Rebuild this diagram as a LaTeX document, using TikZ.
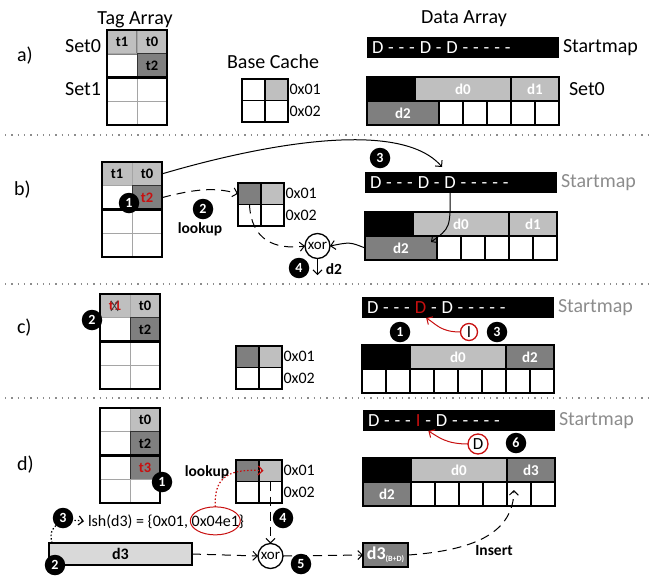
\documentclass[tikz,border=0pt]{standalone}
\usepackage{fontspec}
\setmainfont{Carlito}
\usetikzlibrary{arrows.meta,shapes.geometric,shapes.misc,calc}
\definecolor{lg}{RGB}{191,191,191}
\definecolor{dg}{RGB}{127,127,127}
\definecolor{vlg}{RGB}{217,217,217}
\definecolor{gridg}{RGB}{165,165,165}
\definecolor{myred}{RGB}{200,16,16}
\definecolor{smgray}{RGB}{140,140,140}
\definecolor{sepg}{RGB}{140,140,140}
\newcommand\fsz[1]{\fontsize{#1}{#1}\selectfont}
\newcommand\smfont{\fsz{18.5}\spaceskip=4.85pt\relax}
\newlength\smA \newlength\smB \newlength\smDw \newlength\smIw
\newlength\smAD \newlength\smBD \newlength\smAI

\begin{document}
\settowidth\smA{\smfont D - - - }%
\settowidth\smB{\smfont D - - - D - }%
\settowidth\smDw{\smfont D}%
\settowidth\smIw{\smfont I}%
\setlength\smAD{\dimexpr\smA+\smDw\relax}%
\setlength\smBD{\dimexpr\smB+\smDw/2\relax}%
\setlength\smAI{\dimexpr\smA+\smIw+8pt\relax}%
\begin{tikzpicture}[x=1pt,y=-1pt,
  every node/.style={outer sep=0pt},
  ttl/.style={font=\fsz{20}, inner sep=0pt},
  addr/.style={font=\fsz{16}, inner sep=0pt, anchor=west},
  tcell/.style={draw=gridg, line width=1pt, minimum width=30pt, minimum height=23.75pt, inner sep=0pt, font=\fsz{14.5}\bfseries},
  bcell/.style={draw=black, line width=1.2pt, minimum width=23pt, minimum height=21.5pt, inner sep=0pt},
  dcell/.style={draw=black, line width=1.2pt, minimum height=24pt, inner sep=0pt, font=\fsz{15}\bfseries, text=white},
  wcell/.style={dcell, fill=white, minimum width=24pt},
  frm/.style={draw=black, line width=2.4pt},
  smbar/.style={fill=black, minimum width=192pt, minimum height=21pt, inner sep=0pt, anchor=north west},
  smtext/.style={text=white, font=\smfont, inner sep=0pt, anchor=west},
  badge/.style={circle, fill=black, text=white, font=\fsz{14}\bfseries, inner sep=0pt, minimum size=20.5pt},
  xorn/.style={circle, draw=black, line width=1.3pt, fill=white, minimum size=25pt, inner sep=0pt, font=\fsz{15}},
  rcirc/.style={circle, draw=myred, line width=1.3pt, fill=white, inner sep=0pt, font=\fsz{17}},
  arr/.style={-{Straight Barb[length=4.5pt,width=9pt]}, line width=1pt},
  dashedl/.style={dash pattern=on 9pt off 6pt},
  dottedl/.style={dash pattern=on 1.5pt off 2pt, line width=1.2pt},
  bl/.style={font=\fsz{15.5}\bfseries, inner sep=0pt},
  sepline/.style={draw=sepg, line width=1.3pt, dash pattern=on 1.3pt off 5pt},
]
\useasboundingbox (0,0) rectangle (656,579);

% separators
\draw[sepline] (5,135) -- (650,135);
\draw[sepline] (5,284) -- (650,284);
\draw[sepline] (5,398) -- (650,398);

% ================= Panel a =================
\node[ttl, anchor=base] (a-tagtitle) at (135,24) {Tag Array};
\node[ttl, anchor=base] (a-bctitle) at (273,68) {Base Cache};
\node[ttl, anchor=base] (a-datatitle) at (464,23) {Data Array};
\node[ttl, anchor=base west] (a-lbl) at (17,61) {a)};
\node[ttl, anchor=base east] (a-set0) at (101,52) {Set0};
\node[ttl, anchor=base east] (a-set1) at (101,95) {Set1};

\begin{scope}[shift={(107,30)}]
 \node[tcell,fill=lg,draw=gray,line width=1.5pt] (a-t11) at (15,11.875) {t1};
 \node[tcell,fill=lg] (a-t12) at (45,11.875) {t0};
 \node[tcell] (a-t21) at (15,35.625) {};
 \node[tcell,fill=dg,draw=black!80] (a-t22) at (45,35.625) {t2};
 \node[tcell] (a-t31) at (15,59.375) {};
 \node[tcell] (a-t32) at (45,59.375) {};
 \node[tcell] (a-t41) at (15,83.125) {};
 \node[tcell] (a-t42) at (45,83.125) {};
\end{scope}
\draw[frm] (a-t11.north west) rectangle (a-t42.south east);
\draw[frm] (a-t31.north west) -- (a-t32.north east);

\begin{scope}[shift={(242,79)}]
 \node[bcell] (a-bc11) at (11.5,10.75) {};
 \node[bcell,fill=lg] (a-bc12) at (34.5,10.75) {};
 \node[bcell] (a-bc21) at (11.5,32.25) {};
 \node[bcell] (a-bc22) at (34.5,32.25) {};
\end{scope}
\draw[frm] (a-bc11.north west) rectangle (a-bc22.south east);
\node[addr] (a-ad1) at ([xshift=1.5pt]a-bc12.east) {0x01};
\node[addr] (a-ad2) at ([xshift=1.5pt]a-bc22.east) {0x02};

\node[smbar] (a-sm) at (367,37) {};
\node[smtext] (a-smt) at ([xshift=5pt]a-sm.west) {D - - - D - D - - - - -};
\node[ttl, anchor=west] (a-sml) at ([xshift=4pt]a-sm.east) {Startmap};
\begin{scope}[shift={(367,77)}]
 \node[dcell,fill=black,minimum width=48pt] (a-blk) at (24,12) {};
 \node[dcell,fill=lg,minimum width=96pt] (a-d0) at (96,12) {d0};
 \node[dcell,fill=lg,minimum width=48pt] (a-d1) at (168,12) {d1};
 \node[dcell,fill=dg,minimum width=72pt] (a-d2) at (36,36) {d2};
 \foreach \i/\xx in {1/84,2/108,3/132,4/156,5/180} \node[wcell] (a-w\i) at (\xx,36) {};
\end{scope}
\draw[frm] (a-blk.north west) rectangle (a-w5.south east);
\node[ttl, anchor=west] (a-set0d) at (569,89) {Set0};

% ================= Panel b =================
\node[ttl, anchor=base west] (b-lbl) at (14,195) {b)};
\begin{scope}[shift={(102,162)}]
 \node[tcell,fill=lg] (b-t11) at (15,11.875) {t1};
 \node[tcell,fill=lg] (b-t12) at (45,11.875) {t0};
 \node[tcell] (b-t21) at (15,35.625) {};
 \node[tcell,fill=dg,draw=black!80] (b-t22) at (45,35.625) {\color{myred}t2};
 \node[tcell] (b-t31) at (15,59.375) {};
 \node[tcell] (b-t32) at (45,59.375) {};
 \node[tcell] (b-t41) at (15,83.125) {};
 \node[tcell] (b-t42) at (45,83.125) {};
\end{scope}
\draw[frm] (b-t11.north west) rectangle (b-t42.south east);
\draw[frm] (b-t31.north west) -- (b-t32.north east);

\begin{scope}[shift={(238,183)}]
 \node[bcell,fill=dg] (b-bc11) at (11.5,10.75) {};
 \node[bcell,fill=lg] (b-bc12) at (34.5,10.75) {};
 \node[bcell] (b-bc21) at (11.5,32.25) {};
 \node[bcell] (b-bc22) at (34.5,32.25) {};
\end{scope}
\draw[frm] (b-bc11.north west) rectangle (b-bc22.south east);
\node[addr] (b-ad1) at ([xshift=1.5pt]b-bc12.east) {0x01};
\node[addr] (b-ad2) at ([xshift=1.5pt]b-bc22.east) {0x02};

\node[smbar] (b-sm) at (365,172) {};
\node[smtext] (b-smt) at ([xshift=5pt]b-sm.west) {D - - - D - D - - - - -};
\node[ttl, anchor=west, text=smgray] (b-sml) at ([xshift=4pt]b-sm.east) {Startmap};
\begin{scope}[shift={(365,212)}]
 \node[dcell,fill=black,minimum width=48pt] (b-blk) at (24,12) {};
 \node[dcell,fill=lg,minimum width=96pt] (b-d0) at (96,12) {d0};
 \node[dcell,fill=lg,minimum width=48pt] (b-d1) at (168,12) {d1};
 \node[dcell,fill=dg,minimum width=72pt] (b-d2) at (36,36) {d2};
 \foreach \i/\xx in {1/84,2/108,3/132,4/156,5/180} \node[wcell] (b-w\i) at (\xx,36) {};
\end{scope}
\draw[frm] (b-blk.north west) rectangle (b-w5.south east);

\coordinate (b-smin) at (442,167);
\coordinate (b-d2out) at (317.5,275);
\coordinate (b-D3x) at ([xshift=\smBD]b-smt.west);
\coordinate (b-D3) at (b-D3x |- b-sm.south);
\coordinate (b-d2in) at ([xshift=-6pt,yshift=-6pt]b-d2.north east);

\draw[arr] (b-t12.east) .. controls (260,145) and (400,118) .. (b-smin);
\draw[arr,dashedl] (b-t22.east) .. controls (195,189) and (215,187) .. (b-bc11.west);
\draw[arr] (b-D3) .. controls ([yshift=-35pt]b-D3) .. (b-d2in);
\node[xorn] (b-xor) at (317.5,246) {xor};
\draw[arr,dashedl] (b-bc11.south) .. controls (251,240) and (275,250) .. (b-xor.west);
\draw[arr] (b-d2.west) .. controls (350,242) .. (b-xor.east);
\draw[arr] (b-xor.south) -- (b-d2out);

\node[badge] (b-n1) at (129,203) {1};
\node[badge] (b-n2) at (203,209) {2};
\node[badge] (b-n3) at (380,158) {3};
\node[badge] (b-n4) at (299,268) {4};
\node[bl] (b-lookup) at (200,229) {lookup};
\node[bl] (b-d2lbl) at (334,269) {d2};

% ================= Panel c =================
\node[ttl, anchor=base west] (c-lbl) at (17,333) {c)};
\begin{scope}[shift={(100,294)}]
 \node[tcell,fill=lg] (c-t11) at (15,11.875) {\color{myred}t1};
 \node[tcell,fill=lg] (c-t12) at (45,11.875) {t0};
 \node[tcell] (c-t21) at (15,35.625) {};
 \node[tcell,fill=dg,draw=black!80] (c-t22) at (45,35.625) {t2};
 \node[tcell] (c-t31) at (15,59.375) {};
 \node[tcell] (c-t32) at (45,59.375) {};
 \node[tcell] (c-t41) at (15,83.125) {};
 \node[tcell] (c-t42) at (45,83.125) {};
\end{scope}
\draw[frm] (c-t11.north west) rectangle (c-t42.south east);
\draw[frm] (c-t31.north west) -- (c-t32.north east);
\node[cross out, draw=black!75, line width=0.9pt, minimum width=7pt, minimum height=10pt, inner sep=0pt] (c-x) at ([xshift=-0.5pt]c-t11.center) {};

\begin{scope}[shift={(236,346)}]
 \node[bcell,fill=dg] (c-bc11) at (11.5,10.75) {};
 \node[bcell,fill=lg] (c-bc12) at (34.5,10.75) {};
 \node[bcell] (c-bc21) at (11.5,32.25) {};
 \node[bcell] (c-bc22) at (34.5,32.25) {};
\end{scope}
\draw[frm] (c-bc11.north west) rectangle (c-bc22.south east);
\node[addr] (c-ad1) at ([xshift=1.5pt]c-bc12.east) {0x01};
\node[addr] (c-ad2) at ([xshift=1.5pt]c-bc22.east) {0x02};

\node[smbar] (c-sm) at (362,297) {};
\node[smtext] (c-smt) at ([xshift=5pt]c-sm.west) {D - - - \textcolor{myred}{D} - D - - - - -};
\node[ttl, anchor=west, text=smgray] (c-sml) at ([xshift=4pt]c-sm.east) {Startmap};
\begin{scope}[shift={(362,345)}]
 \node[dcell,fill=black,minimum width=48pt] (c-blk) at (24,12) {};
 \node[dcell,fill=lg,minimum width=96pt] (c-d0) at (96,12) {d0};
 \node[dcell,fill=dg,minimum width=48pt] (c-d2) at (168,12) {d2};
 \foreach \i/\xx in {1/12,2/36,3/60,4/84,5/108,6/132,7/156,8/180} \node[wcell] (c-w\i) at (\xx,36) {};
\end{scope}
\draw[frm] (c-blk.north west) rectangle (c-w8.south east);

\node[rcirc, minimum size=17pt] (c-ci) at (469,332) {I};
\coordinate (c-Dx) at ([xshift=\smAD]c-smt.west);
\coordinate (c-Dtip) at (c-Dx |- c-sm.south);
\draw[arr, draw=myred] (c-ci.west) .. controls ([xshift=-20pt]c-ci.west) and ([xshift=10pt,yshift=-6pt]c-Dtip) .. (c-Dtip);
\node[badge] (c-n2) at (92,320) {2};
\node[badge] (c-n1) at (400,332) {1};
\node[badge] (c-n3) at (497,332) {3};

% ================= Panel d =================
\node[ttl, anchor=base west] (d-lbl) at (17,470) {d)};
\begin{scope}[shift={(100,408)}]
 \node[tcell] (d-t11) at (15,11.875) {};
 \node[tcell,fill=lg] (d-t12) at (45,11.875) {t0};
 \node[tcell] (d-t21) at (15,35.625) {};
 \node[tcell,fill=dg,draw=black!80] (d-t22) at (45,35.625) {t2};
 \node[tcell] (d-t31) at (15,59.375) {};
 \node[tcell,fill=dg,draw=black!80] (d-t32) at (45,59.375) {\color{myred}t3};
 \node[tcell] (d-t41) at (15,83.125) {};
 \node[tcell] (d-t42) at (45,83.125) {};
\end{scope}
\draw[frm] (d-t11.north west) rectangle (d-t42.south east);
\draw[frm] (d-t31.north west) -- (d-t32.north east);

\begin{scope}[shift={(236,460)}]
 \node[bcell,fill=dg] (d-bc11) at (11.5,10.75) {};
 \node[bcell,fill=lg] (d-bc12) at (34.5,10.75) {};
 \node[bcell] (d-bc21) at (11.5,32.25) {};
 \node[bcell] (d-bc22) at (34.5,32.25) {};
\end{scope}
\draw[frm] (d-bc11.north west) rectangle (d-bc22.south east);
\node[addr] (d-ad1) at ([xshift=1.5pt]d-bc12.east) {0x01};
\node[addr] (d-ad2) at ([xshift=1.5pt]d-bc22.east) {0x02};

\node[smbar] (d-sm) at (363,410) {};
\node[smtext] (d-smt) at ([xshift=5pt]d-sm.west) {D - - - \textcolor{myred}{I} - D - - - - -};
\node[ttl, anchor=west, text=smgray] (d-sml) at ([xshift=4pt]d-sm.east) {Startmap};
\begin{scope}[shift={(363,458)}]
 \node[dcell,fill=black,minimum width=48pt] (d-blk) at (24,12) {};
 \node[dcell,fill=lg,minimum width=96pt] (d-d0) at (96,12) {d0};
 \node[dcell,fill=dg,minimum width=48pt] (d-d3c) at (168,12) {d3};
 \node[dcell,fill=dg,minimum width=48pt] (d-d2) at (24,36) {d2};
 \foreach \i/\xx in {1/60,2/84,3/108,4/132,5/156,6/180} \node[wcell] (d-w\i) at (\xx,36) {};
\end{scope}
\draw[frm] (d-blk.north west) rectangle (d-w6.south east);

\node[rcirc, minimum size=20pt] (d-ci) at (478,444) {D};
\coordinate (d-Ix) at ([xshift=\smAI]d-smt.west);
\coordinate (d-Itip) at (d-Ix |- d-sm.south);
\draw[arr, draw=myred] (d-ci.west) .. controls ([xshift=-22pt]d-ci.west) and ([xshift=10pt,yshift=-6pt]d-Itip) .. (d-Itip);

% lsh text and ellipse
\node[inner sep=0pt, anchor=base west, font=\fsz{16}] (d-lsh1) at (88,526) {lsh(d3) = \{0x01,};
\node[inner sep=0pt, anchor=base west, font=\fsz{16}] (d-lsh2) at ([xshift=3.6pt]d-lsh1.base east) {0x04e1};
\node[inner sep=0pt, anchor=base west, font=\fsz{16}] (d-lsh3) at (d-lsh2.base east) {\}};
\node[ellipse, draw=myred, line width=1pt, minimum width=50pt, minimum height=28pt, inner sep=0pt] (d-ell) at (d-lsh2.center) {};

\node[draw=black, line width=1.5pt, fill=vlg, minimum width=143pt, minimum height=22pt, inner sep=0pt, font=\fsz{16}\bfseries] (d-d3) at (120.5,554) {d3};
\node[xorn] (d-xor) at (270.5,556) {xor};
\node[draw=black, line width=1.2pt, fill=dg, minimum width=45pt, minimum height=24pt, inner sep=0pt, text=white] (d-d3bd) at (385.5,555) {{\fsz{18}\bfseries d3}{\fsz{8}\bfseries\raisebox{-1.5pt}{(B+D)}}};

\coordinate (d-lkin) at ([xshift=-7pt]d-bc12.center);
\coordinate (d-lsharr) at ([xshift=-4pt]d-lsh1.west);
\coordinate (d-d3start) at ([xshift=3pt]d-d3.north west);
\coordinate (d-ins) at ([xshift=-5pt,yshift=4pt]d-w5.center);

\draw[arr, dottedl] (d-d3start) .. controls (47,525) and (62,518) .. (d-lsharr);
\draw[arr, dottedl, draw=myred] (d-ell.north) .. controls (214,480) and (225,468) .. (d-lkin);
\draw[arr, dashedl] (d-bc22.north) -- (d-xor.north);
\draw[arr, dashedl] (d-d3.east) -- (d-xor.west);
\draw[arr, dashedl] (d-xor.east) -- (d-d3bd.west);
\draw[arr, dashedl] (d-d3bd.east) .. controls (480,550) and (513,530) .. (d-ins);

\node[bl] (d-lookup) at (207,472) {lookup};
\node[bl] (d-insert) at (494,551) {Insert};
\node[badge] (d-n1) at (162,482) {1};
\node[badge] (d-n2) at (55,565) {2};
\node[badge] (d-n3) at (63,518) {3};
\node[badge] (d-n4) at (283,518) {4};
\node[badge] (d-n5) at (301,564) {5};
\node[badge] (d-n6) at (516,443) {6};
\end{tikzpicture}
\end{document}
